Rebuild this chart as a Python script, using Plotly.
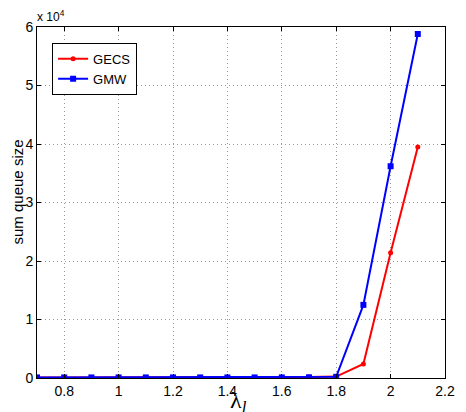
import plotly.graph_objects as go

x_vals = [0.7, 0.8, 0.9, 1.0, 1.1, 1.2, 1.3, 1.4, 1.5, 1.6, 1.7, 1.8, 1.9, 2.0, 2.1]
gecs = [100, 100, 100, 100, 100, 100, 100, 100, 100, 100, 150, 250, 2400, 21400, 39500]
gmw = [100, 100, 100, 100, 100, 100, 100, 100, 100, 100, 120, 200, 12500, 36200, 58800]
x_ticks = [0.8, 1.0, 1.2, 1.4, 1.6, 1.8, 2.0, 2.2]
x_tick_text = ["0.8", "1", "1.2", "1.4", "1.6", "1.8", "2", "2.2"]
y_ticks = [0, 10000, 20000, 30000, 40000, 50000, 60000]
y_tick_text = ["0", "1", "2", "3", "4", "5", "6"]

fig = go.Figure()
fig.add_trace(go.Scatter(x=x_vals, y=gecs, name="GECS", mode="lines+markers",
                         line=dict(color="#ff0000", width=2),
                         marker=dict(symbol="circle", size=5, color="#ff0000")))
fig.add_trace(go.Scatter(x=x_vals, y=gmw, name="GMW", mode="lines+markers",
                         line=dict(color="#0000ff", width=2),
                         marker=dict(symbol="square", size=6, color="#0000ff")))

axis_common = dict(showline=True, linecolor="black", linewidth=1, mirror="ticks",
                   ticks="inside", ticklen=4, tickcolor="black",
                   showgrid=True, gridcolor="#999999", griddash="1px,3px", gridwidth=1,
                   zeroline=False, tickfont=dict(family="Liberation Sans, Arial", size=14, color="black"))

fig.update_xaxes(range=[0.7, 2.2], tickvals=x_ticks, ticktext=x_tick_text, **axis_common)
fig.update_yaxes(range=[0, 60000], tickvals=y_ticks, ticktext=y_tick_text, **axis_common)

fig.update_layout(
    width=458, height=404,
    margin=dict(l=29, r=11, t=18, b=34),
    paper_bgcolor="white", plot_bgcolor="white",
    showlegend=True,
    legend=dict(x=0.037, y=0.955, xanchor="left", yanchor="top",
                bordercolor="black", borderwidth=1, bgcolor="white",
                font=dict(family="Liberation Sans, Arial", size=13, color="black"),
                itemwidth=30, tracegroupgap=0),
    annotations=[
        dict(text="x 10<sup>4</sup>", x=0, y=1.0, xref="paper", yref="paper",
             xanchor="left", yanchor="bottom", showarrow=False, yshift=1, xshift=-2,
             font=dict(family="Liberation Sans, Arial", size=12, color="black")),
        dict(text="sum queue size", x=0, y=0.5, xref="paper", yref="paper",
             xanchor="center", yanchor="middle", showarrow=False, textangle=-90,
             xshift=-20, yshift=10,
             font=dict(family="Liberation Sans, Arial", size=15, color="black")),
        dict(text="λ<sub><i>l</i></sub>", x=0.5, y=0, xref="paper", yref="paper",
             xanchor="center", yanchor="top", showarrow=False, yshift=-7, xshift=-3,
             font=dict(family="Liberation Serif, Times New Roman", size=24, color="black")),
    ],
)

fig.write_html("out.html")
